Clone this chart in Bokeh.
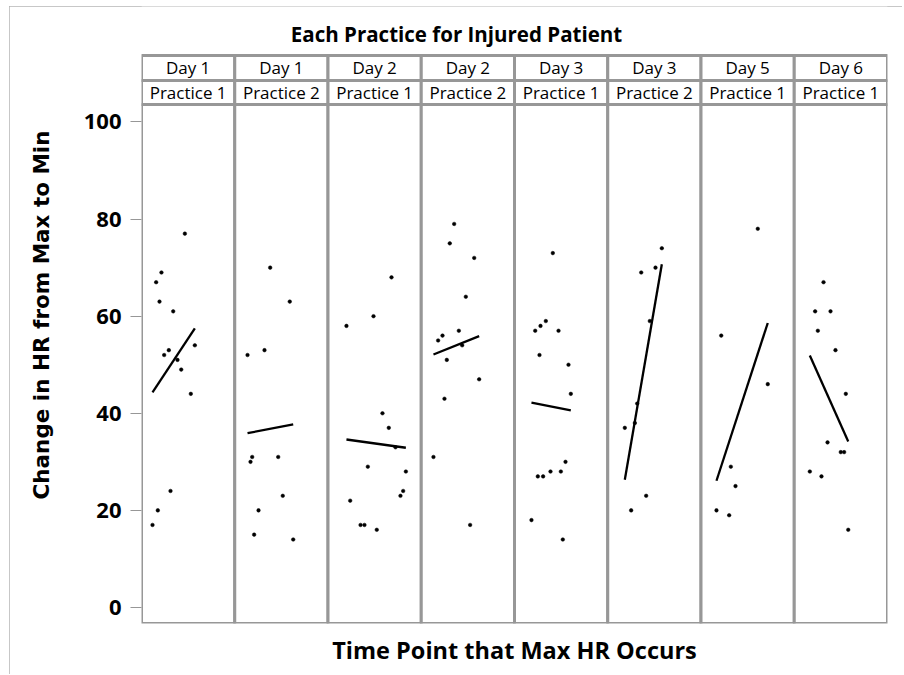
from bokeh.plotting import figure
from bokeh.models import Range1d, FixedTicker, ColumnDataSource, Label
from bokeh.core.properties import value
from bokeh.embed import file_html
from bokeh.resources import INLINE

# ---------------- data ----------------
title_text = "Each Practice for Injured Patient"
y_label = "Change in HR from Max to Min"
x_label = "Time Point that Max HR Occurs"
day_labels = ["Day 1", "Day 1", "Day 2", "Day 2", "Day 3", "Day 3", "Day 5", "Day 6"]
practice_labels = ["Practice 1", "Practice 2", "Practice 1", "Practice 2",
                   "Practice 1", "Practice 2", "Practice 1", "Practice 1"]
y_ticks = [0, 20, 40, 60, 80, 100]

# time point of max HR (panel-relative axis units, 0-100) and change in HR
time_p1 = [46.5, 21.4, 15.7, 19.3, 34.0, 57.2, 29.3, 24.3, 38.6, 42.6, 52.9, 31.1, 17.5, 11.8]
hr_p1 = [77, 69, 67, 63, 61, 54, 53, 52, 51, 49, 44, 24, 20, 17]
time_p2 = [38.0, 59.0, 31.9, 13.7, 18.7, 16.9, 46.6, 51.5, 25.5, 20.8, 62.7]
hr_p2 = [70, 63, 53, 52, 31, 30, 31, 23, 20, 15, 14]
time_p3 = [68.1, 48.8, 19.8, 58.4, 65.2, 42.7, 83.5, 80.6, 77.7, 23.8, 34.9, 39.1, 52.3, 72.4]
hr_p3 = [68, 60, 58, 40, 37, 29, 28, 24, 23, 22, 17, 17, 16, 33]
time_p4 = [35.3, 30.6, 56.8, 47.8, 40.3, 22.8, 18.1, 43.9, 27.4, 62.1, 24.9, 13.1, 52.4]
hr_p4 = [79, 75, 72, 64, 57, 56, 55, 54, 51, 47, 43, 31, 17]
time_p5 = [41.1, 33.6, 27.9, 22.2, 47.2, 26.8, 57.9, 60.4, 54.7, 38.6, 49.7, 25.0, 30.7, 18.2, 51.8]
hr_p5 = [73, 59, 58, 57, 57, 52, 50, 44, 30, 28, 28, 27, 27, 18, 14]
time_p6 = [58.0, 51.2, 35.9, 45.1, 31.6, 29.1, 18.3, 41.2, 25.1]
hr_p6 = [74, 70, 69, 59, 42, 38, 37, 23, 20]
time_p7 = [60.9, 21.7, 71.6, 32.0, 37.0, 16.6, 30.2]
hr_p7 = [78, 56, 46, 29, 25, 20, 19]
time_p8 = [31.4, 22.4, 38.9, 25.3, 44.2, 55.3, 35.7, 49.9, 53.5, 16.7, 29.2, 57.9]
hr_p8 = [67, 61, 61, 57, 53, 44, 34, 32, 32, 28, 27, 16]

# regression fit value at the first and last time point of each panel
fit_start = [44.3, 35.9, 34.6, 52.1, 42.2, 26.3, 26.1, 51.9]
fit_end = [57.5, 37.7, 32.9, 55.9, 40.6, 70.7, 58.6, 34.2]

times = [time_p1, time_p2, time_p3, time_p4, time_p5, time_p6, time_p7, time_p8]
hrs = [hr_p1, hr_p2, hr_p3, hr_p4, hr_p5, hr_p6, hr_p7, hr_p8]

# ---------------- layout ----------------
SPAN = 100.0
N = len(day_labels)
Y_MIN, Y_MAX = -3.30, 123.79
DATA_TOP, ROW_SPLIT, HEADER_TOP = 103.6, 108.55, 113.7
GREY = "#979797"

p = figure(width=893, height=668, output_backend="svg", toolbar_location=None,
           x_range=Range1d(0, N * SPAN), y_range=Range1d(Y_MIN, Y_MAX),
           min_border_left=132, min_border_right=15, min_border_top=0,
           min_border_bottom=51, title=None)
p.xgrid.visible = False
p.ygrid.visible = False
p.outline_line_color = None
p.background_fill_color = "white"
p.border_fill_color = "white"
p.styles = {"margin": "6px 0px 0px 9px",
            "outline": "1px solid #b4b4b4", "outline-offset": "-1px"}

lefts = [i * SPAN for i in range(N)]
rights = [(i + 1) * SPAN for i in range(N)]
cells = ColumnDataSource(dict(
    left=lefts * 3, right=rights * 3,
    bottom=[Y_MIN] * N + [DATA_TOP] * N + [ROW_SPLIT] * N,
    top=[DATA_TOP] * N + [ROW_SPLIT] * N + [HEADER_TOP] * N,
))
p.quad(left="left", right="right", bottom="bottom", top="top", source=cells,
       fill_color="white", line_color=GREY, line_width=3)

centers = [i * SPAN + SPAN / 2 for i in range(N)]
p.text(x=centers, y=[(ROW_SPLIT + HEADER_TOP) / 2] * N, text=day_labels,
       text_align="center", text_baseline="middle", text_color="black",
       text_font=value("Open Sans"), text_font_size="17px")
p.text(x=centers, y=[(DATA_TOP + ROW_SPLIT) / 2] * N, text=practice_labels,
       text_align="center", text_baseline="middle", text_color="black",
       text_font=value("Open Sans"), text_font_size="17px")

px, py = [], []
x0, x1 = [], []
for i, (t, h) in enumerate(zip(times, hrs)):
    px += [i * SPAN + v for v in t]
    py += h
    x0.append(i * SPAN + min(t))
    x1.append(i * SPAN + max(t))

p.scatter(px, py, marker="circle", size=3.6, fill_color="black", line_color="black", line_width=0.5)
p.segment(x0=x0, y0=fit_start, x1=x1, y1=fit_end, line_color="black", line_width=2.3)

p.add_layout(Label(x=337.8, y=118.2, text=title_text, text_align="center",
                   text_baseline="middle", text_font="Open Sans", text_font_style="bold",
                   text_font_size="20.5px", text_color="black"))

# axes
ya = p.yaxis[0]
ya.ticker = FixedTicker(ticks=y_ticks, minor_ticks=[])
ya.axis_line_color = None
ya.major_tick_line_color = GREY
ya.major_tick_out = 11
ya.major_tick_in = 0
ya.minor_tick_line_color = None
ya.major_label_text_font = "Open Sans"
ya.major_label_text_font_style = "bold"
ya.major_label_text_font_size = "22px"
ya.major_label_text_color = "black"
ya.major_label_standoff = 9
ya.axis_label = y_label
ya.axis_label_text_font = "DejaVu Sans"
ya.axis_label_text_font_style = "bold"
ya.axis_label_text_font_size = "21.5px"
ya.axis_label_text_color = "black"
ya.axis_label_standoff = 27

xa = p.xaxis[0]
xa.ticker = FixedTicker(ticks=[], minor_ticks=[])
xa.axis_line_color = None
xa.major_tick_line_color = None
xa.minor_tick_line_color = None
xa.major_tick_out = 0
xa.axis_label = x_label
xa.axis_label_text_font = "Open Sans"
xa.axis_label_text_font_style = "bold"
xa.axis_label_text_font_size = "23.5px"
xa.axis_label_text_color = "black"
xa.axis_label_standoff = 10

open("out.html", "w").write(file_html(p, INLINE))
